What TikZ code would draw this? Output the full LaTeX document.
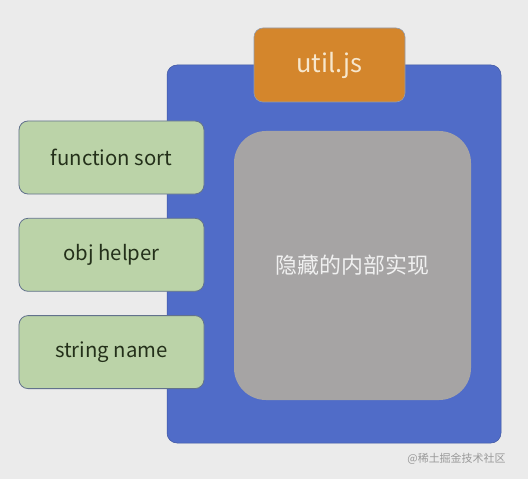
\documentclass[tikz,border=0pt]{standalone}
\usepackage{fontspec}
\setmainfont{Noto Sans CJK SC}
\usetikzlibrary{positioning}
\definecolor{pagebg}{RGB}{235,235,235}
\definecolor{moduleblue}{RGB}{80,108,200}
\definecolor{utilorange}{RGB}{212,134,44}
\definecolor{hiddengray}{RGB}{166,164,164}
\definecolor{exportgreen}{RGB}{187,211,168}
\definecolor{slateedge}{RGB}{98,114,140}
\definecolor{greentext}{RGB}{36,48,26}
\definecolor{tabtext}{RGB}{247,231,205}

\begin{document}
\begin{tikzpicture}[x=1bp, y=-1bp,
    export/.style={draw=slateedge, line width=0.8bp, fill=exportgreen, rounded corners=9bp,
        minimum width=185bp, minimum height=73bp, inner sep=0pt, text=greentext,
        font=\fontsize{20.4}{24}\selectfont}]
    % page and margins
    \fill[pagebg] (0,0) rectangle (528,479);
    % module body first so the rest sits on top
    \node[fill=moduleblue, draw=moduleblue!80!black, line width=0.5bp, rounded corners=10bp,
        minimum width=334bp, minimum height=378bp, inner sep=0pt] (module) at (334,254) {};
    % hidden part
    \node[fill=hiddengray, rounded corners=32bp, minimum width=237bp, minimum height=269bp,
        inner sep=0pt, text=white!94!black, font=\fontsize{22}{26}\selectfont]
        (hidden) at (352.5,265.5) {隐藏的内部实现};
    % file name tab
    \node[fill=utilorange, draw=slateedge!70, line width=0.6bp, rounded corners=9bp,
        minimum width=151bp, minimum height=74bp, inner sep=0pt, text=tabtext,
        font=\fontsize{25.5}{30}\selectfont] (util) at (329.5,65) {util.js};
    % exported members
    \node[export] (sort) at (111.5,157.5) {function sort};
    \node[export, below=23.5bp of sort] (helper) {obj helper};
    \node[export, below=23.5bp of helper] (name) {string name};
    % watermark
    \node[text=black!40, font=\fontsize{11}{13}\selectfont, anchor=east] (mark) at (509,459) {@稀土掘金技术社区};
\end{tikzpicture}
\end{document}
